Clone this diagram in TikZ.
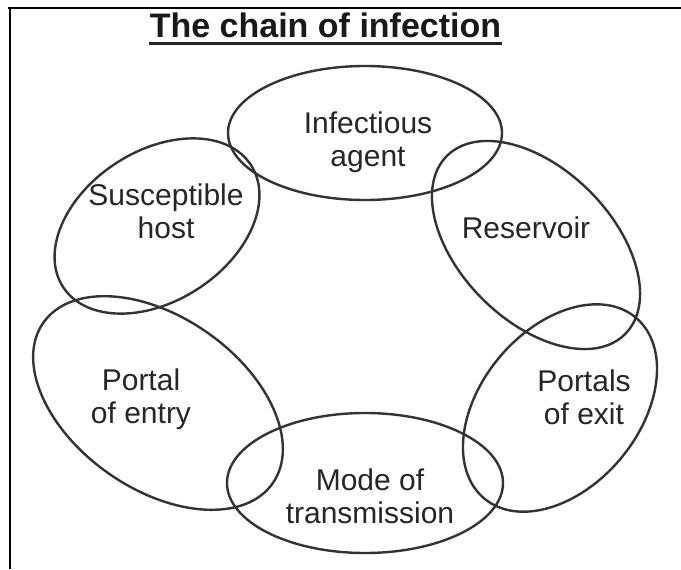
\documentclass[tikz,border=0pt]{standalone}
\usepackage{fontspec}
\setmainfont{Liberation Sans}
\usepackage{tikz}
\tikzset{
  ring/.style={draw=black!80, line width=1.2pt},
  lbl/.style={align=center, text=black!85, font=\fontsize{15}{16.5}\selectfont, inner sep=0pt},
}

\begin{document}
\begin{tikzpicture}[x=0.5pt,y=-0.5pt]
        \useasboundingbox (0,0) rectangle (681,569);
        \draw[black, line width=1pt] (8,7.5) -- (681,7.5);
        \draw[black, line width=1pt] (10,7.5) -- (10,569);

        \node[font=\bfseries\fontsize{17}{19}\selectfont, text=black!90, inner sep=0pt, anchor=base] (title) at (325.5,37) {The chain of infection};
        \draw[black!85, line width=1.5pt] ([yshift=-3pt]title.base west) -- ([yshift=-3pt]title.base east);

        \coordinate (cAgent) at (365,133);
        \coordinate (cRes) at (536,245);
        \coordinate (cExit) at (560,408);
        \coordinate (cMode) at (365,483);
        \coordinate (cEntry) at (158,403);
        \coordinate (cHost) at (157,226);

        \draw[ring] (cAgent) ellipse [x radius=137, y radius=67];
        \draw[ring, rotate around={-45:(cRes)}] (cRes) ellipse [x radius=126, y radius=76];
        \draw[ring, rotate around={50:(cExit)}] (cExit) ellipse [x radius=118, y radius=79];
        \draw[ring] (cMode) ellipse [x radius=138, y radius=70];
        \draw[ring, rotate around={-35:(cEntry)}] (cEntry) ellipse [x radius=140, y radius=86];
        \draw[ring, rotate around={33:(cHost)}] (cHost) ellipse [x radius=112, y radius=75];

        \node[lbl] (agent) at (368,142) {Infectious\\agent};
        \node[lbl] (reservoir) at (526,228) {Reservoir};
        \node[lbl] (exit) at (584,397) {Portals\\of exit};
        \node[lbl] (mode) at (370,496) {Mode of\\transmission};
        \node[lbl] (entry) at (141,399) {Portal\\of entry};
        \node[lbl] (host) at (166,211) {Susceptible\\host};
\end{tikzpicture}
\end{document}
